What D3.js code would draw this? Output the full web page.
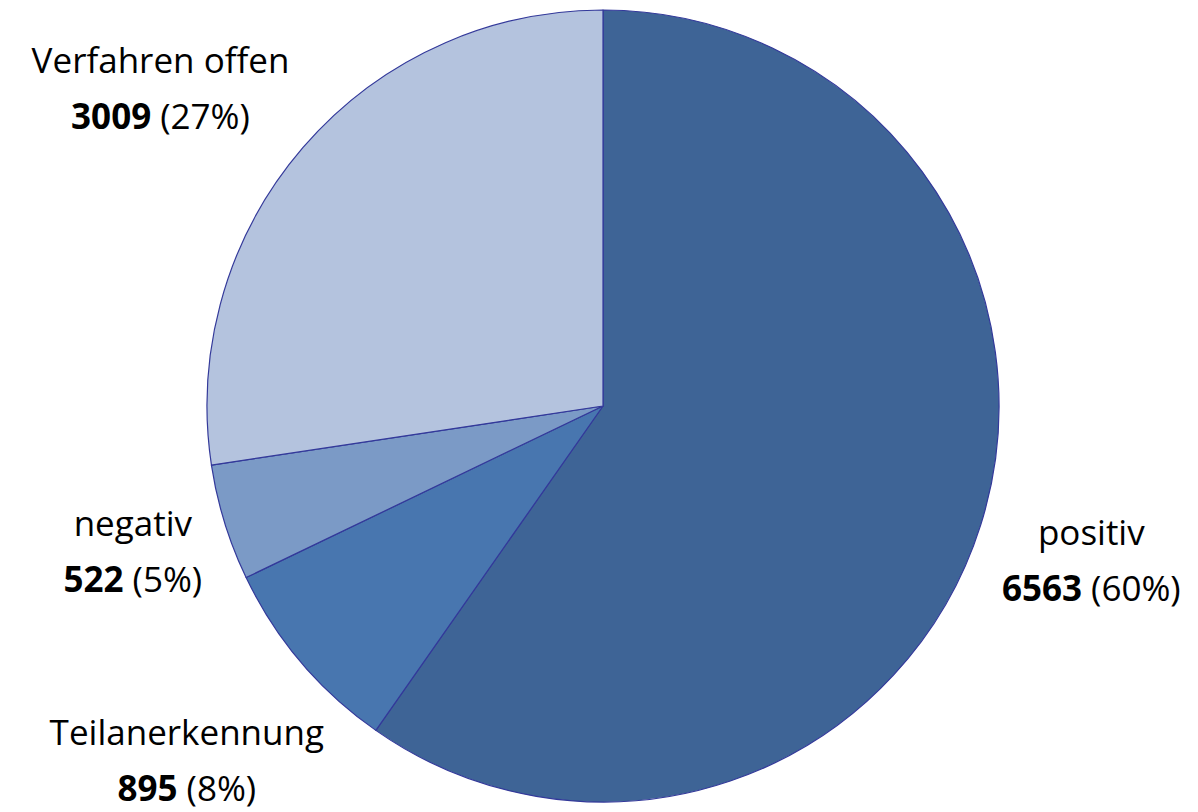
<!DOCTYPE html>
<html>
<head>
<meta charset="utf-8">
<script src="https://cdn.jsdelivr.net/npm/d3@7"></script>
<style>
  body { margin: 0; background: #fff; }
  text { font-family: "Open Sans", "Noto Sans", sans-serif; fill: #000; }
</style>
</head>
<body>
<div id="chart"></div>
<script>
// Slices, clockwise from 12 o'clock
const labels = ["positiv", "Teilanerkennung", "negativ", "Verfahren offen"];
const values = [6563, 895, 522, 3009];
const percents = ["60%", "8%", "5%", "27%"];
const colors = ["#3E6496", "#4876AF", "#7B9AC6", "#B4C3DE"];

const width = 1198, height = 812;
const cx = 603, cy = 406, radius = 396;

const svg = d3.select("#chart")
  .append("svg")
  .attr("width", width)
  .attr("height", height);

const g = svg.append("g").attr("transform", `translate(${cx},${cy})`);

const pie = d3.pie().sort(null).value(d => d);
const arcs = pie(values);
const arc = d3.arc().innerRadius(0).outerRadius(radius);

g.selectAll("path")
  .data(arcs)
  .enter()
  .append("path")
  .attr("d", arc)
  .attr("fill", (d, i) => colors[i])
  .attr("stroke", "#33399A")
  .attr("stroke-width", 1.2)
  .attr("stroke-linejoin", "round");

// Labels: two lines, pushed out from the pie until the box clears it
const fontSize = 35;
const lineGap = 56;
const gap = 15;     // space between pie edge and nearest label corner
const topMargin = 36; // labels are kept below this line

arcs.forEach((d, i) => {
  const mid = (d.startAngle + d.endAngle) / 2;

  const t = g.append("text")
    .attr("text-anchor", "middle")
    .attr("font-size", fontSize);
  t.append("tspan").attr("x", 0).attr("y", 0).text(labels[i]);
  const l2 = t.append("tspan").attr("x", 0).attr("y", lineGap);
  l2.append("tspan").attr("font-weight", "bold").text(values[i]);
  l2.append("tspan").text(` (${percents[i]})`);

  const bb = t.node().getBBox();
  const hw = bb.width / 2, hh = bb.height / 2;
  const offX = bb.x + hw, offY = bb.y + hh; // box centre relative to text origin

  // distance from pie centre to nearest box corner for a given box centre
  const nearest = (bx, by) => {
    const nx = Math.max(Math.abs(bx) - hw, 0);
    const ny = Math.max(Math.abs(by) - hh, 0);
    return Math.hypot(nx, ny);
  };
  const place = a => {
    const dx = Math.sin(a), dy = -Math.cos(a);
    let s = radius;
    while (nearest(dx * s, dy * s) < radius + gap) s += 1;
    return [dx * s, dy * s];
  };

  // slide the label along the slice if it would run off the top
  let pos = place(mid);
  for (let k = 1; k < 60 && cy + pos[1] - hh < topMargin; k++) {
    const a = mid + (Math.cos(mid) > 0 ? (Math.sin(mid) < 0 ? -1 : 1) : 0) * k * Math.PI / 360;
    pos = place(a);
  }

  t.attr("transform", `translate(${pos[0] - offX},${pos[1] - offY})`);
});
</script>
</body>
</html>
